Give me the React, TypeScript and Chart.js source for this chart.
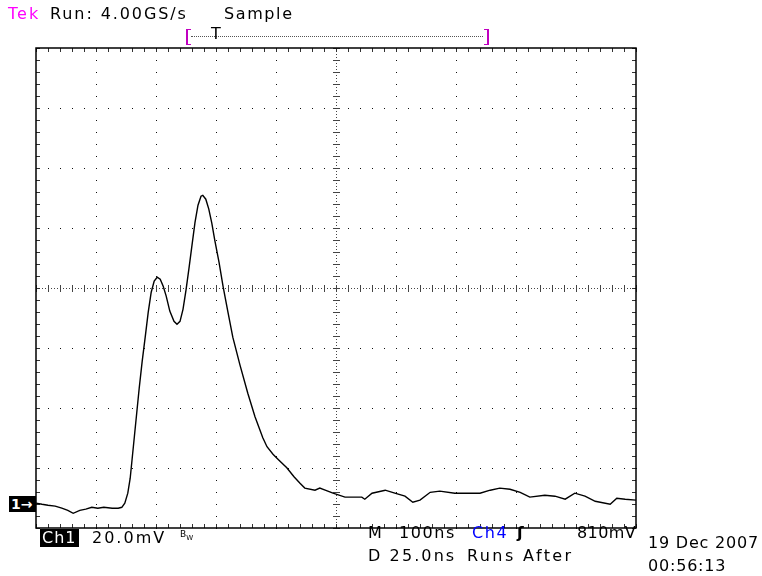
import React, { useEffect, useRef } from "react";
import { Chart, registerables } from "chart.js";
Chart.register(...registerables);

// Horizontal: 100 ns/div, 10 divisions. Vertical: 20 mV/div, 8 divisions.
const TIME_PER_DIV_NS = 100;
const MV_PER_DIV = 20;
const H_DIVS = 10;
const V_DIVS = 8;
const GROUND_DIV = -3.62; // channel 1 ground position (divisions from centre)

const TIME_NS = [
  0, 10, 20, 32, 43, 53, 62, 73, 83, 93, 103, 113, 127, 137, 143, 148, 153, 157, 160, 164,
  168, 172, 177, 182, 187, 192, 197, 202, 207, 212, 217, 223, 230, 235, 240, 245, 250, 255,
  260, 265, 270, 275, 278, 283, 288, 293, 298, 305, 312, 320, 328, 340, 353, 365, 378, 385,
  395, 405, 418, 430, 440, 448, 465, 473, 482, 495, 515, 543, 548, 560, 582, 598, 615, 628, 640, 657,
  673, 698, 723, 740, 757, 773, 790, 807, 823, 848, 865, 882, 898, 915, 932, 957, 968, 982, 1000,
];

const CH1_MV = [
  0.7, 0.3, 0, -0.3, -1.0, -1.7, -2.7, -1.7, -1.3, -0.7, -1.0, -0.7, -1.0, -1.0, -0.7, 0.7, 4.0, 9.0, 15.0, 23.0,
  31.0, 39.0, 48.0, 56.0, 64.3, 71.0, 74.7, 76.0, 75.3, 73.0, 69.7, 64.7, 61.3, 60.3, 61.3, 65.3, 71.7, 79.0,
  86.7, 94.3, 100.0, 103.0, 103.3, 102.0, 98.7, 94.0, 88.3, 81.0, 72.7, 64.3, 56.0, 46.7, 37.3, 29.5, 22.5, 19.5,
  17.0, 15.0, 12.5, 9.5, 7.3, 5.7, 5.0, 5.7, 5.0, 4.0, 2.7, 2.7, 2.0, 4.0, 5.0, 4.0, 3.0, 1.0, 1.7, 4.3,
  4.7, 4.0, 4.0, 4.0, 5.0, 5.7, 5.3, 4.3, 2.7, 3.3, 3.0, 2.0, 4.0, 3.0, 1.3, 0.3, 2.3, 2.0, 1.7,
];

const graticule = {
  id: "graticule",
  beforeDatasetsDraw(chart: any) {
    const { ctx, chartArea, scales } = chart;
    const { left, right, top, bottom } = chartArea;
    const xs = scales.x;
    const ys = scales.y;
    const tMax = TIME_PER_DIV_NS * H_DIVS;
    const half = V_DIVS / 2;
    const nMinorX = H_DIVS * 5;
    const nMinorY = V_DIVS * 5;
    ctx.save();
    ctx.fillStyle = "#111";
    // major dotted lines
    for (let i = 1; i < H_DIVS; i++) {
      if (i === H_DIVS / 2) continue;
      const px = Math.round(xs.getPixelForValue(i * TIME_PER_DIV_NS));
      for (let k = 0; k <= nMinorY; k++) {
        const py = Math.round(ys.getPixelForValue(-half + k * 0.2));
        ctx.fillRect(px, py, 1, 1);
      }
    }
    for (let j = 1; j < V_DIVS; j++) {
      if (j === V_DIVS / 2) continue;
      const py = Math.round(ys.getPixelForValue(-half + j));
      for (let k = 0; k <= nMinorX; k++) {
        const px = Math.round(xs.getPixelForValue((k * tMax) / nMinorX));
        ctx.fillRect(px, py, 1, 1);
      }
    }
    // centre cross lines
    const cx = Math.round(xs.getPixelForValue(tMax / 2));
    const cy = Math.round(ys.getPixelForValue(0));
    ctx.fillStyle = "#444";
    for (let py = top; py <= bottom; py += 3) ctx.fillRect(cx, py, 1, 1);
    for (let px = left; px <= right; px += 3) ctx.fillRect(px, cy, 1, 1);
    for (let k = 0; k <= nMinorY; k++) {
      const py = Math.round(ys.getPixelForValue(-half + k * 0.2));
      ctx.fillRect(cx - 3, py, 7, 1);
    }
    for (let k = 0; k <= nMinorX; k++) {
      const px = Math.round(xs.getPixelForValue((k * tMax) / nMinorX));
      ctx.fillRect(px, cy - 3, 1, 7);
    }
    // border ticks
    ctx.fillStyle = "#333";
    for (let k = 0; k <= nMinorX; k++) {
      const px = Math.round(xs.getPixelForValue((k * tMax) / nMinorX));
      ctx.fillRect(px, top, 1, 4);
      ctx.fillRect(px, bottom - 4, 1, 4);
    }
    for (let k = 0; k <= nMinorY; k++) {
      const py = Math.round(ys.getPixelForValue(-half + k * 0.2));
      ctx.fillRect(left, py, 4, 1);
      ctx.fillRect(right - 4, py, 4, 1);
    }
    ctx.strokeStyle = "#000";
    ctx.lineWidth = 1.5;
    ctx.strokeRect(left, top, right - left, bottom - top);
    ctx.restore();
  },
};

const FONT = '"DejaVu Sans", "Liberation Sans", sans-serif';

const txt = (left: number, top: number, extra: any = {}): React.CSSProperties => ({
  position: "absolute",
  left,
  top,
  fontFamily: FONT,
  fontSize: 16,
  lineHeight: "16px",
  letterSpacing: "1.6px",
  whiteSpace: "nowrap",
  color: "#000",
  ...extra,
});

export default function App() {
  const canvasRef = useRef<HTMLCanvasElement | null>(null);

  useEffect(() => {
    const canvas = canvasRef.current;
    if (!canvas) return;
    const points = TIME_NS.map((t, i) => ({ x: t, y: CH1_MV[i] / MV_PER_DIV + GROUND_DIV }));
    const chart = new Chart(canvas, {
      type: "line",
      data: {
        datasets: [
          {
            data: points,
            borderColor: "#000",
            borderWidth: 1.4,
            pointRadius: 0,
            tension: 0,
            fill: false,
          },
        ],
      },
      options: {
        animation: false,
        responsive: false,
        devicePixelRatio: 1,
        parsing: false as any,
        layout: { padding: { left: 36, top: 48, right: 126, bottom: 48 } },
        scales: {
          x: { type: "linear", min: 0, max: TIME_PER_DIV_NS * H_DIVS, display: false },
          y: { type: "linear", min: -V_DIVS / 2, max: V_DIVS / 2, display: false },
        },
        plugins: { legend: { display: false }, tooltip: { enabled: false } },
      },
      plugins: [graticule],
    });
    return () => chart.destroy();
  }, []);

  return (
    <div style={{ position: "fixed", left: 0, top: 0, width: 762, height: 576, background: "#fff", overflow: "hidden" }}>
      <canvas ref={canvasRef} width={762} height={576} style={{ position: "absolute", left: 0, top: 0, display: "block" }} />
      {/* header */}
      <div style={txt(8, 6, { color: "#ff00ff", letterSpacing: "2px" })}>Tek</div>
      <div style={txt(50, 6, { letterSpacing: "1.9px" })}>Run: 4.00GS/s</div>
      <div style={txt(224, 6)}>Sample</div>
      {/* trigger / record bracket */}
      <div style={{ position: "absolute", left: 186, top: 29, width: 3, height: 14, borderLeft: "2px solid #c000c0", borderTop: "1px solid #c000c0", borderBottom: "1px solid #c000c0" }} />
      <div style={{ position: "absolute", left: 484, top: 29, width: 3, height: 14, borderRight: "2px solid #c000c0", borderTop: "1px solid #c000c0", borderBottom: "1px solid #c000c0" }} />
      <div style={{ position: "absolute", left: 191, top: 36, width: 292, height: 0, borderTop: "1px dotted #555" }} />
      <div style={txt(211, 26, { letterSpacing: 0 })}>T</div>
      {/* ground marker */}
      <div style={txt(9, 496, { background: "#000", color: "#fff", width: 27, height: 16, letterSpacing: 0, fontWeight: "bold", fontSize: 14, lineHeight: "16px", paddingLeft: 2, boxSizing: "border-box" })}>1→</div>
      {/* bottom readouts */}
      <div style={txt(40, 529, { background: "#000", color: "#fff", padding: "1px 2px 1px 2px", letterSpacing: "1px" })}>Ch1</div>
      <div style={txt(92, 530, { letterSpacing: "2px" })}>20.0mV</div>
      <div style={txt(180, 530, { fontSize: 9, lineHeight: "9px", letterSpacing: 0 })}>
        B<span style={{ fontSize: 7, position: "relative", top: 3 }}>W</span>
      </div>
      <div style={txt(368, 525)}>M</div>
      <div style={txt(399, 525)}>100ns</div>
      <div style={txt(472, 525, { color: "#0000ff" })}>Ch4</div>
      <div style={txt(517, 525, { fontWeight: "bold", letterSpacing: 0 })}>ʃ</div>
      <div style={txt(577, 525, { letterSpacing: "0.4px" })}>810mV</div>
      <div style={txt(368, 548, { letterSpacing: "2.1px" })}>D 25.0ns</div>
      <div style={txt(467, 548, { letterSpacing: "2.4px" })}>Runs After</div>
      <div style={txt(648, 535, { letterSpacing: "0.8px" })}>19 Dec 2007</div>
      <div style={txt(648, 558, { letterSpacing: "0.8px" })}>00:56:13</div>
    </div>
  );
}
